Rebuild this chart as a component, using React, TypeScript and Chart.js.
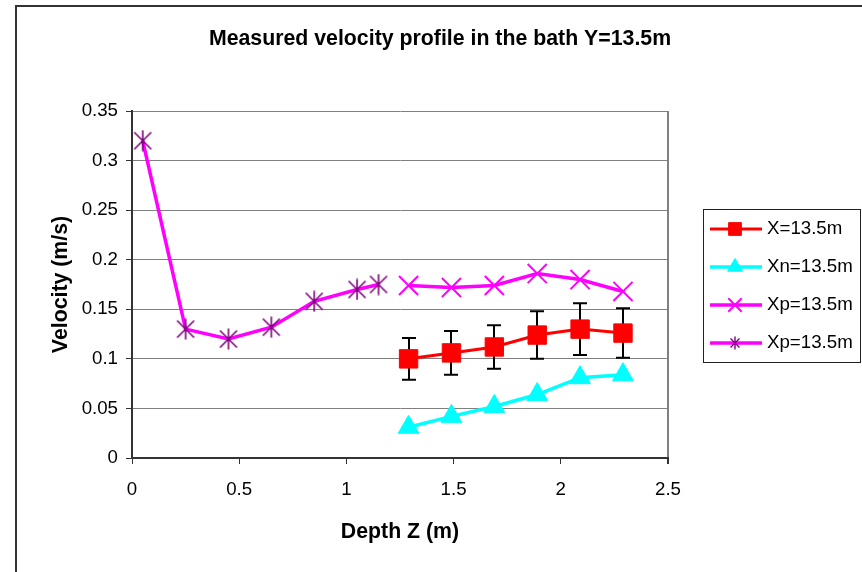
import React, { useEffect, useRef } from 'react';
import { Chart, registerables } from 'chart.js';
import { drawPoint } from 'chart.js/helpers';

Chart.register(...registerables);

const TITLE = 'Measured velocity profile in the bath Y=13.5m';
const X_TITLE = 'Depth Z (m)';
const Y_TITLE = 'Velocity (m/s)';

const xTickValues = [0, 0.5, 1, 1.5, 2, 2.5];
const xTickLabels = ['0', '0.5', '1', '1.5', '2', '2.5'];
const yTickValues = [0, 0.05, 0.1, 0.15, 0.2, 0.25, 0.3, 0.35];
const yTickLabels = ['0', '0.05', '0.1', '0.15', '0.2', '0.25', '0.3', '0.35'];

const seriesNames = ['X=13.5m', 'Xn=13.5m', 'Xp=13.5m', 'Xp=13.5m'];

const depthX = [1.29, 1.49, 1.69, 1.89, 2.09, 2.29];
const velX = [0.1, 0.106, 0.112, 0.124, 0.13, 0.126];
const errX = [0.021, 0.022, 0.022, 0.024, 0.026, 0.025];

const depthXn = [1.29, 1.49, 1.69, 1.89, 2.09, 2.29];
const velXn = [0.031, 0.042, 0.052, 0.064, 0.081, 0.084];

const depthXp = [1.29, 1.49, 1.69, 1.89, 2.09, 2.29];
const velXp = [0.174, 0.172, 0.174, 0.186, 0.18, 0.168];

const depthXp2 = [0.05, 0.25, 0.45, 0.65, 0.85, 1.05, 1.15];
const velXp2 = [0.32, 0.13, 0.12, 0.132, 0.158, 0.17, 0.175];

const FONT = "'Liberation Sans', Arial, sans-serif";
const TICK_SIZE = 18.7;
const TITLE_SIZE = 21.3;

function toPoints(xs: number[], ys: number[]) {
  return xs.map((x, i) => ({ x, y: ys[i] }));
}

function makeStar(size: number, lw: number, color: string) {
  const c = document.createElement('canvas');
  c.width = size;
  c.height = size + 2;
  const ctx = c.getContext('2d')!;
  ctx.strokeStyle = color;
  ctx.lineWidth = lw;
  const m = 1.5;
  ctx.beginPath();
  ctx.moveTo(m, m + 1);
  ctx.lineTo(size - m, size + 1 - m);
  ctx.moveTo(size - m, m + 1);
  ctx.lineTo(m, size + 1 - m);
  ctx.moveTo(size / 2, 0.5);
  ctx.lineTo(size / 2, size + 1.5);
  ctx.stroke();
  return c;
}

export default function App() {
  const ref = useRef<HTMLCanvasElement>(null);

  useEffect(() => {
    const starImg = makeStar(20, 1.6, '#800080');
    const starLegend = makeStar(12, 1.4, '#800080');

    const bgPlugin = {
      id: 'bgFrame',
      beforeDraw(chart: any) {
        const ctx = chart.ctx;
        ctx.save();
        ctx.fillStyle = '#ffffff';
        ctx.fillRect(0, 0, chart.width, chart.height);
        ctx.strokeStyle = '#333333';
        ctx.lineWidth = 2;
        ctx.strokeRect(16, 6, chart.width + 40, chart.height + 40);
        ctx.restore();
      },
    };

    const titlePlugin = {
      id: 'mainTitle',
      afterDraw(chart: any) {
        const ctx = chart.ctx;
        ctx.save();
        ctx.fillStyle = '#000';
        ctx.font = `bold ${TITLE_SIZE}px ${FONT}`;
        ctx.textAlign = 'center';
        ctx.textBaseline = 'middle';
        ctx.fillText(TITLE, 440, 39);
        ctx.restore();
      },
    };

    const errorBarPlugin = {
      id: 'errorBars',
      beforeDatasetsDraw(chart: any) {
        const ctx = chart.ctx;
        const meta = chart.getDatasetMeta(0);
        const ys = chart.scales.y;
        ctx.save();
        ctx.strokeStyle = '#000';
        ctx.lineWidth = 2;
        meta.data.forEach((pt: any, i: number) => {
          const x = Math.round(pt.x);
          const yTop = ys.getPixelForValue(velX[i] + errX[i]);
          const yBot = ys.getPixelForValue(velX[i] - errX[i]);
          ctx.beginPath();
          ctx.moveTo(x, yTop);
          ctx.lineTo(x, yBot);
          ctx.moveTo(x - 7, yTop);
          ctx.lineTo(x + 7, yTop);
          ctx.moveTo(x - 7, yBot);
          ctx.lineTo(x + 7, yBot);
          ctx.stroke();
        });
        ctx.restore();
      },
    };

    const legendPlugin = {
      id: 'boxLegend',
      afterDraw(chart: any) {
        const ctx = chart.ctx;
        ctx.save();
        ctx.strokeStyle = '#222';
        ctx.lineWidth = 1;
        ctx.strokeRect(703.5, 209.5, 157, 153);
        const rows = [229, 267, 305, 343];
        const legendRadius = [9, 8.5, 9.5, 0];
        chart.data.datasets.forEach((ds: any, i: number) => {
          const y = rows[i];
          ctx.strokeStyle = ds.borderColor;
          ctx.lineWidth = ds.borderWidth;
          ctx.beginPath();
          ctx.moveTo(710, y);
          ctx.lineTo(762, y);
          ctx.stroke();
          const mx = 735;
          if (ds.pointStyle instanceof HTMLCanvasElement) {
            ctx.drawImage(starLegend, mx - starLegend.width / 2, y - starLegend.height / 2);
          } else {
            ctx.fillStyle = ds.pointBackgroundColor;
            ctx.strokeStyle = ds.pointBorderColor;
            ctx.lineWidth = ds.pointBorderWidth;
            drawPoint(ctx, { pointStyle: ds.pointStyle, radius: legendRadius[i], rotation: 0, borderWidth: ds.pointBorderWidth } as any, mx, y);
          }
          ctx.fillStyle = '#000';
          ctx.font = `${TICK_SIZE}px ${FONT}`;
          ctx.textAlign = 'left';
          ctx.textBaseline = 'middle';
          ctx.fillText(seriesNames[i], 767, y);
        });
        ctx.restore();
      },
    };

    const chart = new Chart(ref.current!, {
      type: 'line',
      data: {
        datasets: [
          {
            label: seriesNames[0],
            data: toPoints(depthX, velX),
            borderColor: '#FF0000',
            borderWidth: 3,
            pointStyle: 'rect',
            pointRadius: 13,
            pointBackgroundColor: '#FF0000',
            pointBorderColor: '#FF0000',
            pointBorderWidth: 1,
          },
          {
            label: seriesNames[1],
            data: toPoints(depthXn, velXn),
            borderColor: '#00FFFF',
            borderWidth: 3.5,
            pointStyle: 'triangle',
            pointRadius: 12,
            pointBackgroundColor: '#00FFFF',
            pointBorderColor: '#00FFFF',
            pointBorderWidth: 1,
          },
          {
            label: seriesNames[2],
            data: toPoints(depthXp, velXp),
            borderColor: '#FF00FF',
            borderWidth: 3.5,
            pointStyle: 'crossRot',
            pointRadius: 13.5,
            pointBackgroundColor: '#FF00FF',
            pointBorderColor: '#FF00FF',
            pointBorderWidth: 2,
          },
          {
            label: seriesNames[3],
            data: toPoints(depthXp2, velXp2),
            borderColor: '#FF00FF',
            borderWidth: 3.5,
            pointStyle: starImg as any,
            pointRadius: 10,
            pointBackgroundColor: '#800080',
            pointBorderColor: '#800080',
            pointBorderWidth: 1.5,
          },
        ] as any,
      },
      options: {
        responsive: false,
        animation: false,
        devicePixelRatio: 1,
        layout: { padding: { top: 111, left: 0, right: 194, bottom: 0 } },
        plugins: {
          legend: { display: false },
          title: { display: false },
          tooltip: { enabled: false },
        },
        scales: {
          x: {
            type: 'linear',
            min: 0,
            max: 2.5,
            afterFit(scale: any) {
              scale.height = 114;
            },
            afterBuildTicks(scale: any) {
              scale.ticks = xTickValues.map((v) => ({ value: v }));
            },
            ticks: {
              autoSkip: false,
              maxRotation: 0,
              padding: 15,
              color: '#000',
              font: { family: FONT, size: TICK_SIZE },
              callback: (_v: any, i: number) => xTickLabels[i],
            },
            grid: {
              color: (c: any) => (c.tick && c.tick.value === 2.5 ? '#808080' : 'rgba(0,0,0,0)'),
              lineWidth: (c: any) => (c.tick && c.tick.value === 2.5 ? 2 : 1),
              tickColor: '#333',
              tickLength: 6,
            },
            border: { display: true, color: '#333', width: 2 },
            title: {
              display: true,
              text: X_TITLE,
              color: '#000',
              font: { family: FONT, size: TITLE_SIZE, weight: 'bold' },
              padding: { top: 0, bottom: 27 },
            },
          },
          y: {
            type: 'linear',
            min: 0,
            max: 0.35,
            afterFit(scale: any) {
              scale.width = 132;
            },
            afterBuildTicks(scale: any) {
              scale.ticks = yTickValues.map((v) => ({ value: v }));
            },
            ticks: {
              autoSkip: false,
              padding: 8,
              color: '#000',
              font: { family: FONT, size: TICK_SIZE },
              callback: (_v: any, i: number) => yTickLabels[i],
            },
            grid: {
              color: (c: any) => (c.tick && c.tick.value === 0 ? 'rgba(0,0,0,0)' : '#808080'),
              lineWidth: 1,
              tickColor: '#333',
              tickLength: 6,
            },
            border: { display: true, color: '#333', width: 2 },
            title: {
              display: true,
              text: Y_TITLE,
              color: '#000',
              font: { family: FONT, size: TITLE_SIZE, weight: 'bold' },
              padding: { top: 48, bottom: 0 },
            },
          },
        },
      } as any,
      plugins: [bgPlugin, errorBarPlugin, titlePlugin, legendPlugin],
    });
    return () => chart.destroy();
  }, []);

  return (
    <div style={{ position: 'fixed', left: 0, top: 0, width: 862, height: 572 }}>
      <canvas ref={ref} width={862} height={572} style={{ display: 'block', width: 862, height: 572 }} />
    </div>
  );
}
